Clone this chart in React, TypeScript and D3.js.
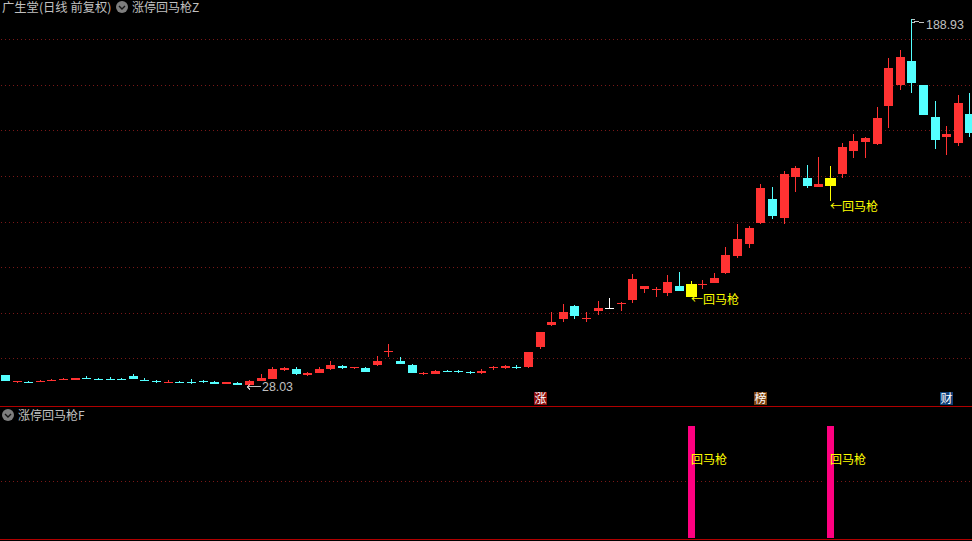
import React from "react";
import * as d3 from "d3";

const W = 972, H = 541;
const opens = [32.67,29.6,29.6,29.6,30.04,30.63,30.48,31.36,31.06,31.06,31.06,32.23,30.63,30.19,29.16,29.6,29.6,30.19,29.6,28.72,29.16,28.28,30.04,30.92,34.87,35.31,32.67,33.55,
35.3,36.62,35.74,35.74,37.06,42.76,38.81,37.06,33.11,33.11,34.43,34.43,33.99,33.55,35.74,35.74,36.18,36.18,44.96,54.61,57.24,62.95,57.24,60.75,62.29,63.82,65.58,70.41,
69.97,68.66,71.73,72.61,72.17,73.04,77.43,84.89,90.16,99.37,109.9,101.57,119.55,119.11,115.17,119.11,120.87,130.96,134.91,134.03,150.71,159.92,170.45,159.92,145.88,137.1,134.47,147.2];
const highs = [32.67,30.04,30.04,30.48,31.06,31.5,31.5,32.23,31.5,31.8,31.5,33.11,31.5,30.63,30.48,30.04,30.92,30.63,30.04,29.6,29.6,30.48,33.11,36.18,36.18,36.18,33.99,36.18,
38.81,37.06,36.18,36.18,41.01,46.27,40.57,37.5,33.99,34.86,34.86,34.86,34.43,35.3,36.62,37.06,37.06,42.76,51.54,60.31,63.82,63.38,60.31,65.14,66.46,64.7,76.99,71.72,
71.29,76.55,77.87,73.92,74.36,77.43,88.84,98.93,98.06,116.48,115.17,122.19,124.38,124.82,128.33,124.38,134.47,138.42,137.1,150.27,171.77,175.28,188.93,159.92,152.9,141.93,155.53,156.41];
const lows = [30.19,29.16,29.16,29.6,30.04,30.63,30.48,30.92,30.63,30.33,30.63,30.92,30.19,29.16,29.16,29.16,28.72,29.16,28.72,28.72,28.28,28.03,30.04,30.92,34.43,32.67,32.23,33.55,
34.86,35.3,35.3,33.99,36.62,40.57,37.5,33.55,32.67,33.11,33.99,33.55,33.11,33.11,34.86,35.3,35.3,35.74,44.08,54.17,55.93,57.24,55.93,59,61.63,60.75,64.26,68.65,
66.9,67.34,69.53,66.9,70.41,73.04,76.99,84.01,88.4,98.93,101.13,98.93,112.97,114.73,115.17,109.02,119.11,127.89,127.89,133.59,141.05,157.73,156.41,146.76,131.84,129.21,133.16,137.1];
const closes = [30.19,30.04,29.16,30.04,30.63,31.06,31.5,30.92,30.63,30.63,30.63,30.92,30.19,29.75,29.6,29.16,29.16,29.75,28.72,29.6,28.28,30.04,31.36,35.31,35.74,33.11,33.55,35.31,
37.06,35.74,36.18,33.99,38.81,43.2,37.5,33.55,33.55,34.43,33.99,33.99,33.55,34.43,36.18,36.62,35.74,42.76,51.54,55.93,60.31,58.56,57.68,62.07,62.29,64.26,74.79,71.72,
70.41,73.48,69.53,66.9,72.61,75.24,85.33,92.35,97.18,114.73,102.44,120.87,123.5,115.6,116.48,115.6,132.72,135.35,136.67,145.44,167.38,172.21,160.8,146.76,135.79,138.42,152.02,138.86];
const signalIndexes = [59, 71];
const gridPrices = [40, 60, 80, 100, 120, 140, 160, 180];
const maxLabel = "188.93";
const minLabel = "28.03";
const badges = [
  { i: 46, t: "涨", c: "#8a0c0c" },
  { i: 65, t: "榜", c: "#7c4210" },
  { i: 81, t: "财", c: "#0f3f78" },
];

const RED = "#ff3232", CYAN = "#54ffff", YEL = "#ffff00", PINK = "#ff0080", TXT = "#c0c0c0";
const LINE = "#b00000", DOT = "#7a1818";
const FONT = '"Noto Sans CJK SC", sans-serif';
const NUM = '"Liberation Sans", sans-serif';

const x = d3.scaleLinear().domain([0, 83]).range([5, 969.46]);
const y = d3.scaleLinear().domain([40, 180]).range([358.3, 39.3]);
const sub = d3.scaleLinear().domain([0, 1]).range([538, 426]);
const px = (i: number) => Math.round(x(i));
const py = (v: number) => Math.round(y(v));

function Chevron({ cx, cy }: { cx: number; cy: number }) {
  return (
    <g>
      <circle cx={cx} cy={cy} r={6} fill="#7e7e7e" />
      <path d={`M${cx - 3},${cy - 1}L${cx},${cy + 2}L${cx + 3},${cy - 1}`} fill="none" stroke="#151515" strokeWidth={1.4} />
    </g>
  );
}

export default function App() {
  const candles = d3.range(opens.length);
  return (
    <svg width={W} height={H} viewBox={`0 0 ${W} ${H}`}
      style={{ position: "absolute", left: 0, top: 0, display: "block", background: "#000" }}
      fontFamily={FONT}>
      <rect width={W} height={H} fill="#000" />
      {gridPrices.map((p) => (
        <line key={p} x1={1} x2={W} y1={Math.round(y(p)) + 0.5} y2={Math.round(y(p)) + 0.5}
          stroke={DOT} strokeDasharray="1 3" shapeRendering="crispEdges" />
      ))}
      <line x1={1} x2={W} y1={481.5} y2={481.5} stroke={DOT} strokeDasharray="1 3" shapeRendering="crispEdges" />
      <line x1={0} x2={W} y1={406.5} y2={406.5} stroke={LINE} shapeRendering="crispEdges" />
      <line x1={0} x2={W} y1={539.5} y2={539.5} stroke={LINE} shapeRendering="crispEdges" />

      <g shapeRendering="crispEdges">
        {candles.map((i) => {
          const sig = signalIndexes.includes(i);
          const o = opens[i], c = closes[i];
          const col = sig ? YEL : o === c ? "#ffffff" : c > o ? RED : CYAN;
          const cx = px(i);
          const top = py(Math.max(o, c));
          const bot = Math.max(py(Math.min(o, c)), top + 1);
          const hw = sig ? 5 : 4;
          return (
            <g key={i}>
              <rect x={cx} y={py(highs[i])} width={1} height={Math.max(1, py(lows[i]) - py(highs[i]))} fill={col} />
              <rect x={cx - hw} y={top} width={hw * 2 + 1} height={bot - top} fill={col} />
            </g>
          );
        })}
      </g>

      {/* extreme markers */}
      <g stroke={TXT} fill="none" shapeRendering="crispEdges">
        <path d={`M${px(78) + 0.5},${py(188.93) + 0.5}h3M${px(78) + 0.5},${py(188.93) + 3.5}h3`} />
        <path d={`M${px(78) + 3},${py(188.93) + 2.5}h4l2,1h4`} />
        <path d={`M${px(21) - 2},${py(28.03) + 0.5}h14M${px(21) - 2},${py(28.03) + 0.5}l3,-2M${px(21) - 2},${py(28.03) + 0.5}l3,3`} />
      </g>
      <text x={926} y={29} fontSize={12.4} fill={TXT} fontFamily={NUM}>{maxLabel}</text>
      <text x={262} y={391} fontSize={12.4} fill={TXT} fontFamily={NUM}>{minLabel}</text>

      {/* signal labels */}
      {signalIndexes.map((i) => (
        <text key={i} x={px(i)} y={py(lows[i]) + (i === 59 ? 7 : 10)} fontSize={12} fill={YEL}>←回马枪</text>
      ))}

      {/* badges */}
      {badges.map((b) => (
        <g key={b.t}>
          <rect x={px(b.i) - 6} y={392} width={13} height={13} fill={b.c} shapeRendering="crispEdges" />
          <text x={px(b.i) + 0.5} y={403} fontSize={12} fill="#fff" textAnchor="middle">{b.t}</text>
        </g>
      ))}

      {/* titles */}
      <text x={2} y={12} fontSize={12.3} fill={TXT}>广生堂(日线 前复权)</text>
      <Chevron cx={122} cy={7} />
      <text x={132} y={12} fontSize={12} fill={TXT}>涨停回马枪Z</text>
      <Chevron cx={8} cy={415} />
      <text x={18} y={420} fontSize={12} fill={TXT}>涨停回马枪F</text>

      {/* lower panel */}
      {signalIndexes.map((i) => (
        <g key={i}>
          <rect x={px(i) - 5} y={sub(1)} width={11} height={sub(0) - sub(1)} fill="#000" />
          <rect x={px(i) - 3} y={sub(1)} width={7} height={sub(0) - sub(1)} fill={PINK} shapeRendering="crispEdges" />
          <text x={px(i)} y={464} fontSize={12} fill={YEL}>回马枪</text>
        </g>
      ))}
    </svg>
  );
}
